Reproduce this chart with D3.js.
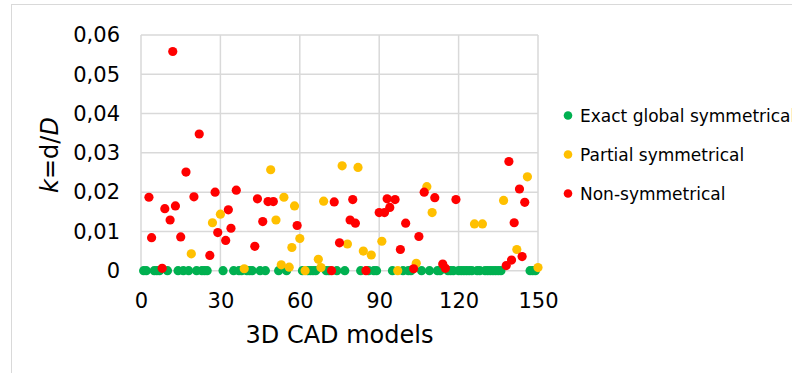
<!DOCTYPE html>
<html>
<head>
<meta charset="utf-8">
<script src="https://cdn.jsdelivr.net/npm/d3@7"></script>
<style>
  body { margin: 0; background: #fff; }
  svg { display: block; font-family: "DejaVu Sans", Verdana, sans-serif; }
</style>
</head>
<body>
<div id="chart"></div>
<script>
// exact global symmetrical models (all sit on k = 0)
var greenX = [1,2,5,6,7,10,14,16,18,21,23,24,25,31,35,37,38,40,41,42,45,47,52,55,61,63,64,65,66,70,71,74,77,83,86,88,89,95,99,101,102,106,109,112,113,116,117,118,120,121,122,123,124,125,127,128,130,131,132,133,134,135,136,147,148,149];
var greenY = [0,0,0,0,0,0,0,0,0,0,0,0,0,0,0,0,0,0,0,0,0,0,0,0,0,0,0,0,0,0,0,0,0,0,0,0,0,0,0,0,0,0,0,0,0,0,0,0,0,0,0,0,0,0,0,0,0,0,0,0,0,0,0,0,0,0];

// partial symmetrical
var yellowX = [19,27,30,39,49,51,53,54,56,57,58,60,62,67,68,69,76,78,82,84,87,91,97,104,108,110,126,129,137,142,146,150];
var yellowY = [0.0043,0.0122,0.0144,0.0005,0.0257,0.0129,0.0015,0.0187,0.0009,0.0059,0.0165,0.0082,0,0.0029,0.0008,0.0177,0.0267,0.0068,0.0263,0.005,0.004,0.0075,0,0.0019,0.0214,0.0148,0.0119,0.0119,0.0179,0.0054,0.0239,0.0008];

// non-symmetrical
var redX = [3,4,8,9,11,12,13,15,17,20,22,26,28,29,32,33,34,36,43,44,46,48,50,59,72,73,75,79,80,81,85,90,92,93,94,96,98,100,103,105,107,111,114,115,119,138,139,140,141,143,144,145];
var redY = [0.0187,0.0084,0.0006,0.0158,0.0129,0.0558,0.0165,0.0086,0.0251,0.0188,0.0348,0.0039,0.0200,0.0097,0.0077,0.0155,0.0108,0.0205,0.0062,0.0183,0.0125,0.0176,0.0176,0.0115,0,0.0175,0.0071,0.0129,0.0181,0.0121,0,0.0148,0.0148,0.0183,0.0161,0.0181,0.0054,0.0121,0.0005,0.0087,0.0200,0.0186,0.0017,0.0006,0.0181,0.0013,0.0278,0.0027,0.0122,0.0208,0.0036,0.0174];

var xTicks = [0,30,60,90,120,150];
var yTicks = [0,0.01,0.02,0.03,0.04,0.05,0.06];
var seriesNames = ["Exact global symmetrical","Partial symmetrical","Non-symmetrical"];
var seriesColors = ["#00b050","#ffc000","#ff0000"];

var width = 792, height = 373;
var svg = d3.select("#chart").append("svg")
    .attr("width", width)
    .attr("height", height);

// chart frame (only top and left edge are inside the picture)
svg.append("rect")
    .attr("x", 11.5)
    .attr("y", 4.5)
    .attr("width", 900)
    .attr("height", 500)
    .attr("fill", "none")
    .attr("stroke", "#d9d9d9")
    .attr("stroke-width", 1);

var x = d3.scaleLinear().domain([0,150]).range([141,538]);
var y = d3.scaleLinear().domain([0,0.06]).range([270.7,35]);

// gridlines
svg.append("g").selectAll("line")
    .data(yTicks)
    .enter().append("line")
    .attr("x1", x(0)).attr("x2", x(150))
    .attr("y1", function(d) { return y(d); })
    .attr("y2", function(d) { return y(d); })
    .attr("stroke", "#d9d9d9")
    .attr("stroke-width", 1.5);
svg.append("g").selectAll("line")
    .data(xTicks)
    .enter().append("line")
    .attr("y1", y(0)).attr("y2", y(0.06))
    .attr("x1", function(d) { return x(d); })
    .attr("x2", function(d) { return x(d); })
    .attr("stroke", "#d9d9d9")
    .attr("stroke-width", 1.5);

// axes, text only
var fmt = function(d) { return d === 0 ? "0" : d3.format(".2f")(d).replace(".", ","); };
var yAxis = svg.append("g")
    .attr("transform", "translate(128,0)")
    .call(d3.axisLeft(y).tickValues(yTicks).tickFormat(fmt).tickSize(0).tickPadding(8));
var xAxis = svg.append("g")
    .attr("transform", "translate(0," + y(0) + ")")
    .call(d3.axisBottom(x).tickValues(xTicks).tickSize(0).tickPadding(21));
[yAxis, xAxis].forEach(function(a) {
  a.select(".domain").remove();
  a.selectAll("text")
      .attr("font-family", "DejaVu Sans, Verdana, sans-serif")
      .attr("font-size", "21px")
      .attr("fill", "#000");
});
xAxis.selectAll("text").attr("dy", "0.71em").attr("y", 22);

// axis titles
svg.append("text")
    .attr("x", 339.5)
    .attr("y", 342.5)
    .attr("text-anchor", "middle")
    .attr("font-size", "24px")
    .text("3D CAD models");

var yt = svg.append("text")
    .attr("transform", "translate(58,155) rotate(-90)")
    .attr("text-anchor", "middle")
    .attr("font-size", "24px");
yt.append("tspan").attr("font-style", "italic").text("k");
yt.append("tspan").text("=d/");
yt.append("tspan").attr("font-style", "italic").text("D");

// points
var series = [[greenX, greenY], [yellowX, yellowY], [redX, redY]];
series.forEach(function(s, k) {
  svg.append("g").selectAll("circle")
      .data(s[0])
      .enter().append("circle")
      .attr("cx", function(d) { return x(d); })
      .attr("cy", function(d, i) { return y(s[1][i]); })
      .attr("r", 4.6)
      .attr("fill", seriesColors[k]);
});

// legend
var legend = svg.append("g").selectAll("g")
    .data(seriesNames)
    .enter().append("g")
    .attr("transform", function(d, i) { return "translate(568," + (115.5 + i * 39) + ")"; });
legend.append("circle")
    .attr("r", 4.3)
    .attr("fill", function(d, i) { return seriesColors[i]; });
legend.append("text")
    .attr("x", 12)
    .attr("dy", "0.36em")
    .attr("font-size", "17px")
    .attr("fill", "#000")
    .text(function(d) { return d; });
</script>
</body>
</html>
